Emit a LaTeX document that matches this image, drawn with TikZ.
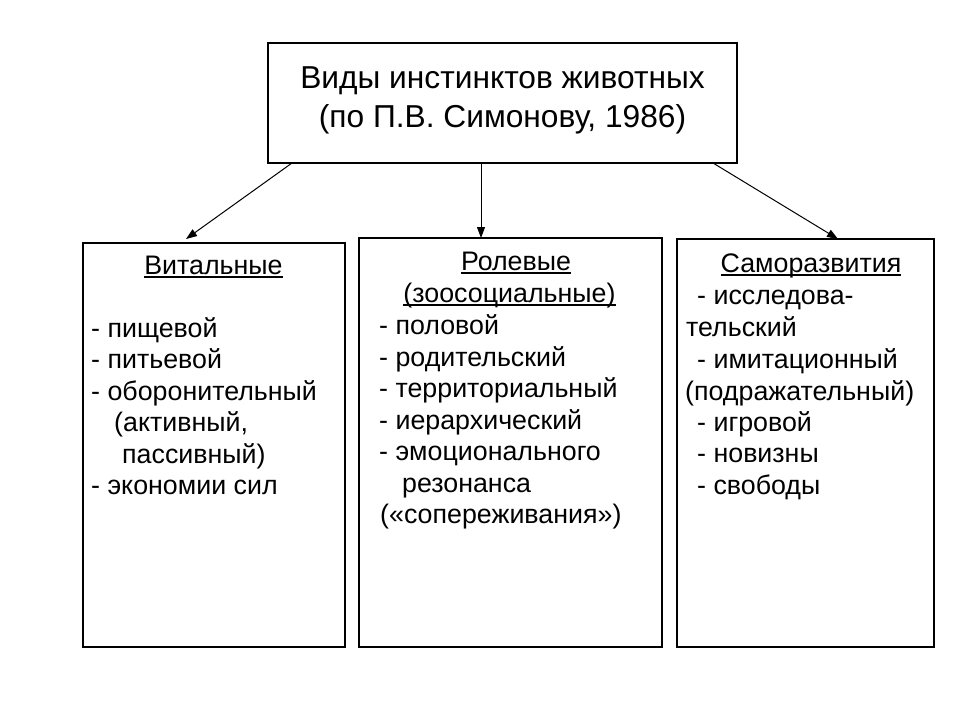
\documentclass[tikz,border=0pt]{standalone}
\usepackage{fontspec}
\setmainfont{Liberation Sans}
\usetikzlibrary{arrows.meta}
\newcommand\myul[1]{\setbox0\hbox{#1}\rlap{\rule[-3.5pt]{\wd0}{1.5pt}}\box0}
\begin{document}
\begin{tikzpicture}[x=1pt,y=-1pt,
  boxstyle/.style={draw=black,line width=1.2pt,inner sep=0pt},
  titletext/.style={inner sep=0pt,anchor=base,font=\fontsize{31.7}{38}\selectfont},
  bodytext/.style={inner sep=0pt,anchor=base west,font=\fontsize{26.8}{32}\selectfont},
  headtext/.style={inner sep=0pt,anchor=base,font=\fontsize{26.8}{32}\selectfont},
  arrowstyle/.style={line width=1pt,-{Triangle[length=11pt,width=8pt]}}]
\useasboundingbox[fill=white] (0,0) rectangle (960,720);
% boxes
\node[boxstyle,minimum width=469pt,minimum height=120pt] (top) at (502.5,103) {};
\node[boxstyle,minimum width=262pt,minimum height=404pt] (vital) at (214,445) {};
\node[boxstyle,minimum width=303pt,minimum height=409pt] (role) at (510.5,442.5) {};
\node[boxstyle,minimum width=257pt,minimum height=408pt] (self) at (805.5,443) {};
% title
\node[titletext] (t1) at (502.5,88) {Виды инстинктов животных};
\node[titletext] (t2) at (502.5,127) {(по П.В. Симонову, 1986)};
% arrows
\coordinate (s1) at (292,163); \coordinate (e1) at (186,239);
\coordinate (s2) at (481,163); \coordinate (e2) at (481,238);
\coordinate (s3) at (713,163); \coordinate (e3) at (838,239);
\draw[arrowstyle] (s1) -- (e1);
\draw[arrowstyle] (s2) -- (e2);
\draw[arrowstyle] (s3) -- (e3);
% left box
\node[headtext] (v0) at (213.5,274) {\myul{Витальные}};
\node[bodytext] (v1) at (91,337) {- пищевой};
\node[bodytext] (v2) at (91,368.5) {- питьевой};
\node[bodytext] (v3) at (91,400) {- оборонительный};
\node[bodytext] (v4) at (114,431.5) {(активный,};
\node[bodytext] (v5) at (122,463) {пассивный)};
\node[bodytext] (v6) at (91,494.5) {- экономии сил};
% middle box
\node[headtext] (r0) at (516,270) {\myul{Ролевые}};
\node[headtext] (r1) at (509.5,302) {\myul{(зоосоциальные)}};
\node[bodytext] (r2) at (379,334) {- половой};
\node[bodytext] (r3) at (379,366) {- родительский};
\node[bodytext] (r4) at (379,397.5) {- территориальный};
\node[bodytext] (r5) at (379,429) {- иерархический};
\node[bodytext] (r6) at (379,460.5) {- эмоционального};
\node[bodytext] (r7) at (402,492) {резонанса};
\node[bodytext] (r8) at (380,523.5) {(«сопереживания»)};
% right box
\node[headtext] (p0) at (811,272) {\myul{Саморазвития}};
\node[bodytext] (p1) at (697,304) {- исследова-};
\node[bodytext] (p2) at (686,336) {тельский};
\node[bodytext] (p3) at (697,368) {- имитационный};
\node[bodytext] (p4) at (685,400) {(подражательный)};
\node[bodytext] (p5) at (697,431) {- игровой};
\node[bodytext] (p6) at (697,462.5) {- новизны};
\node[bodytext] (p7) at (697,494) {- свободы};
\end{tikzpicture}
\end{document}
